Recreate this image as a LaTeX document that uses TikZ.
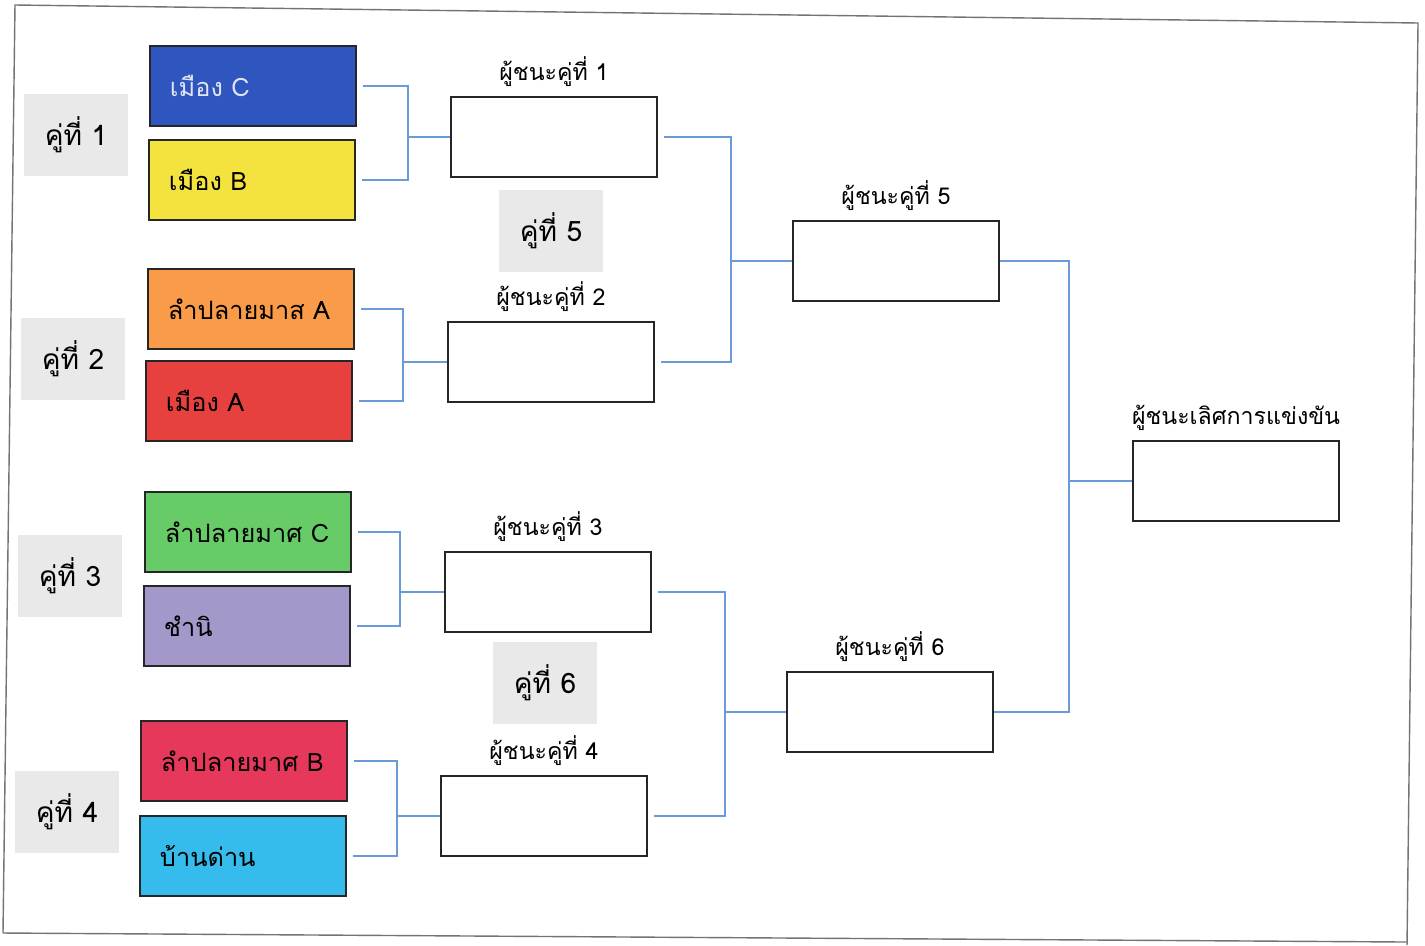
\documentclass[tikz,border=0pt]{standalone}
\usepackage{fontspec}
\newfontfamily\thaifont[Script=Thai]{Loma}
\usetikzlibrary{positioning}
\definecolor{lineBlue}{HTML}{6A9BD8}
\definecolor{pairGray}{HTML}{E9E9EA}
\definecolor{teamBlue}{HTML}{2F55BF}
\definecolor{teamYellow}{HTML}{F4E23E}
\definecolor{teamOrange}{HTML}{F99B48}
\definecolor{teamRed}{HTML}{E6403F}
\definecolor{teamGreen}{HTML}{67CB68}
\definecolor{teamPurple}{HTML}{A497C9}
\definecolor{teamCrimson}{HTML}{E5385A}
\definecolor{teamCyan}{HTML}{35BCEC}
\tikzset{
  team/.style={draw=black!85, line width=0.5pt, minimum width=2.06cm, minimum height=0.8cm,
    text width=1.66cm, align=left, inner xsep=0.2cm,
    font=\thaifont\fontsize{7.2}{9}\selectfont},
  pair/.style={fill=pairGray, minimum width=1.04cm, minimum height=0.81cm,
    font=\thaifont\fontsize{8}{10}\selectfont},
  winner/.style={draw=black!85, line width=0.5pt, fill=white, minimum width=2.06cm, minimum height=0.8cm},
  winlabel/.style={font=\thaifont\fontsize{6.6}{8}\selectfont, inner sep=1pt, label distance=0.05cm},
  bracket/.style={draw=lineBlue, line width=0.8pt},
  gapped/.style={bracket, shorten <=0.06cm, shorten >=0.06cm}
}
\begin{document}
\begin{tikzpicture}[x=0.01cm, y=-0.01cm]
  %% Page size and the scanned frame
  \useasboundingbox (0,0) rectangle (1425,945);
  \draw[black!55, line width=0.4pt] (3,933) -- (15,5) -- (1418,23) -- (1407,945);
  \draw[black!55, line width=0.4pt] (3,933) -- (1406,942);
  %% Teams
  \node[team, fill=teamBlue, text=white!85!teamBlue] (c1) at (253,86) {เมือง C};
  \node[team, fill=teamYellow] (c2) at (252,180) {เมือง B};
  \node[team, fill=teamOrange] (c3) at (251,309) {ลำปลายมาส A};
  \node[team, fill=teamRed] (c4) at (249,401) {เมือง A};
  \node[team, fill=teamGreen] (c5) at (248,532) {ลำปลายมาศ C};
  \node[team, fill=teamPurple] (c6) at (247,626) {ชำนิ};
  \node[team, fill=teamCrimson] (c7) at (244,761) {ลำปลายมาศ B};
  \node[team, fill=teamCyan] (c8) at (243,856) {บ้านด่าน};
  %% Pair labels
  \node[pair] (p1) at (76,135) {คู่ที่ 1};
  \node[pair] (p2) at (73,359) {คู่ที่ 2};
  \node[pair] (p3) at (70,576) {คู่ที่ 3};
  \node[pair] (p4) at (67,812) {คู่ที่ 4};
  \node[pair] (p5) at (551,231) {คู่ที่ 5};
  \node[pair] (p6) at (545,683) {คู่ที่ 6};
  %% Winner boxes
  \node[winner, label={[winlabel]above:ผู้ชนะคู่ที่ 1}] (w1) at (554,137) {};
  \node[winner, label={[winlabel]above:ผู้ชนะคู่ที่ 2}] (w2) at (551,362) {};
  \node[winner, label={[winlabel]above:ผู้ชนะคู่ที่ 3}] (w3) at (548,592) {};
  \node[winner, label={[winlabel]above:ผู้ชนะคู่ที่ 4}] (w4) at (544,816) {};
  \node[winner, label={[winlabel]above:ผู้ชนะคู่ที่ 5}] (w5) at (896,261) {};
  \node[winner, label={[winlabel]above:ผู้ชนะคู่ที่ 6}] (w6) at (890,712) {};
  \node[winner, label={[winlabel]above:ผู้ชนะเลิศการแข่งขัน}] (champ) at (1236,481) {};
  %% First round brackets
  \draw[gapped] (c1.east) -- ++(51,0) coordinate (j1) |- (c2.east);
  \draw[bracket] (j1 |- w1.west) -- (w1.west);
  \draw[gapped] (c3.east) -- ++(48,0) coordinate (j2) |- (c4.east);
  \draw[bracket] (j2 |- w2.west) -- (w2.west);
  \draw[gapped] (c5.east) -- ++(48,0) coordinate (j3) |- (c6.east);
  \draw[bracket] (j3 |- w3.west) -- (w3.west);
  \draw[gapped] (c7.east) -- ++(49,0) coordinate (j4) |- (c8.east);
  \draw[bracket] (j4 |- w4.west) -- (w4.west);
  %% Second round brackets
  \draw[gapped] (w1.east) -- ++(73,0) coordinate (j5) |- (w2.east);
  \draw[bracket] (j5 |- w5.west) -- (w5.west);
  \draw[gapped] (w3.east) -- ++(73,0) coordinate (j6) |- (w4.east);
  \draw[bracket] (j6 |- w6.west) -- (w6.west);
  %% Final
  \draw[bracket] (w5.east) -- ++(69,0) coordinate (j7) |- (w6.east);
  \draw[bracket] (j7 |- champ.west) -- (champ.west);
\end{tikzpicture}
\end{document}
